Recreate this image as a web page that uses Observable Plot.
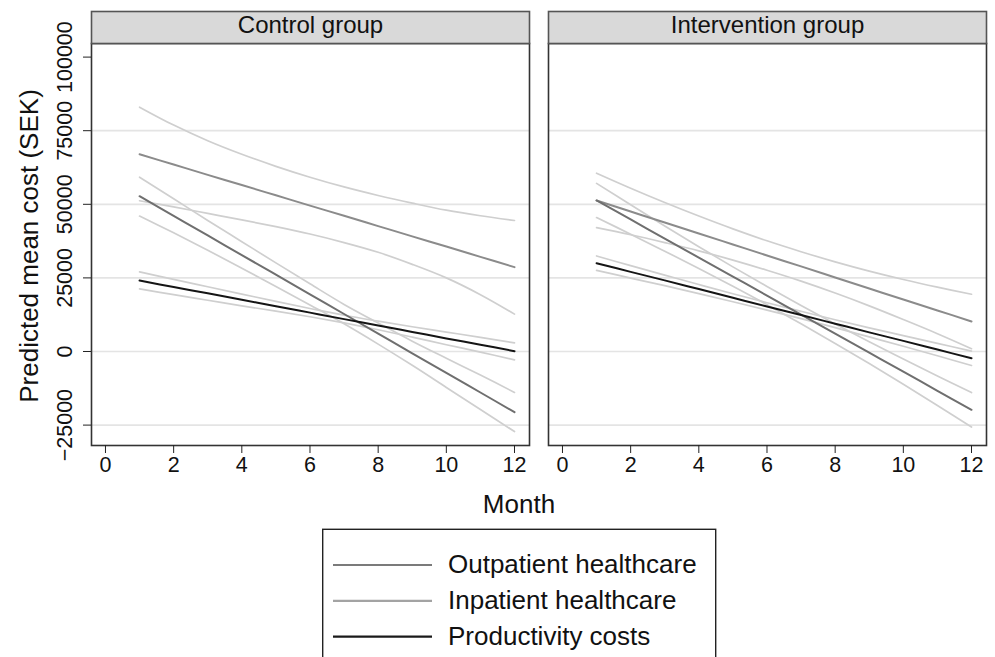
<!DOCTYPE html>
<html><head><meta charset="utf-8">
<script src="https://cdn.jsdelivr.net/npm/d3@7"></script>
<script src="https://cdn.jsdelivr.net/npm/@observablehq/plot@0.6"></script>
<style>
body{margin:0;background:#fff;}
#chart{position:relative;width:995px;height:657px;overflow:hidden;font-family:"Liberation Sans",Arial,Helvetica,sans-serif;}
#chart svg{display:block;}
</style>
</head><body><div id="chart"></div>
<script>
const panels = ["Control group", "Intervention group"];
const seriesNames = ["Outpatient healthcare", "Inpatient healthcare", "Productivity costs"];
const months = [1, 2, 3, 4, 5, 6, 7, 8, 9, 10, 11, 12];
const xTicks = [0, 2, 4, 6, 8, 10, 12];
const yTicks = [-25000, 0, 25000, 50000, 75000, 100000];
const gridValues = [-25000, 0, 25000, 50000, 75000];
const yLabel = "Predicted mean cost (SEK)";
const xLabel = "Month";

// Control group
const controlOutpatient      = [52750, 46080, 39410, 32750, 26080, 19410, 12740, 6070, -600, -7260, -13930, -20600];
const controlOutpatientUpper = [59200, 51900, 44500, 37300, 30100, 23000, 16000, 9700, 3500, -2300, -8000, -13900];
const controlOutpatientLower = [46000, 40300, 34400, 28300, 22100, 15800, 9400, 2500, -4700, -12200, -19700, -27200];
const controlInpatient       = [67000, 63500, 60000, 56550, 53050, 49550, 46100, 42600, 39100, 35650, 32150, 28650];
const controlInpatientUpper  = [83000, 76900, 71600, 67000, 62900, 59200, 55900, 53000, 50400, 48000, 46100, 44500];
const controlInpatientLower  = [51200, 49100, 46900, 44700, 42400, 39900, 37000, 33700, 29600, 25000, 19300, 12700];
const controlProductivity      = [24100, 21900, 19750, 17550, 15400, 13200, 11000, 8850, 6650, 4450, 2300, 100];
const controlProductivityUpper = [27050, 24500, 22000, 19500, 17000, 14600, 12300, 10300, 8400, 6600, 4800, 2950];
const controlProductivityLower = [21300, 19300, 17400, 15500, 13700, 11800, 9700, 7400, 4900, 2300, -200, -2850];

// Intervention group
const interventionOutpatient      = [51300, 44850, 38350, 31900, 25450, 19000, 12500, 6050, -400, -6850, -13350, -19800];
const interventionOutpatientUpper = [57100, 49850, 42650, 35600, 28750, 22100, 15600, 9350, 3300, -2550, -8350, -13950];
const interventionOutpatientLower = [45500, 39850, 34050, 28200, 22150, 15900, 9400, 2750, -4100, -11150, -18350, -25650];
const interventionInpatient       = [51300, 47550, 43800, 40100, 36350, 32600, 28900, 25150, 21400, 17650, 13950, 10200];
const interventionInpatientUpper  = [60550, 55450, 50600, 46000, 41650, 37600, 33900, 30450, 27300, 24450, 21850, 19450];
const interventionInpatientLower  = [42050, 39650, 37000, 34200, 31050, 27600, 23900, 19850, 15500, 10850, 6050, 950];
const interventionProductivity      = [30000, 27050, 24150, 21200, 18250, 15300, 12400, 9450, 6500, 3600, 650, -2300];
const interventionProductivityUpper = [32450, 29150, 25950, 22750, 19600, 16550, 13650, 10800, 8050, 5400, 2750, 150];
const interventionProductivityLower = [27550, 24950, 22350, 19650, 16900, 14050, 11150, 8100, 4950, 1800, -1450, -4750];

const lineColors = {"Outpatient healthcare": "#6f6f6f", "Inpatient healthcare": "#8b8b8b", "Productivity costs": "#151515"};
const ciColor = "#cfcfcf";
const legendColors = ["#7b7b7b", "#a3a3a3", "#1a1a1a"];

const rows = [];
function add(panel, series, band, values) {
  values.forEach((v, i) => rows.push({panel, series, band, month: months[i], value: v, key: panel + "|" + series + "|" + band}));
}
add(panels[0], seriesNames[0], "upper", controlOutpatientUpper);
add(panels[0], seriesNames[0], "lower", controlOutpatientLower);
add(panels[0], seriesNames[1], "upper", controlInpatientUpper);
add(panels[0], seriesNames[1], "lower", controlInpatientLower);
add(panels[0], seriesNames[2], "upper", controlProductivityUpper);
add(panels[0], seriesNames[2], "lower", controlProductivityLower);
add(panels[1], seriesNames[0], "upper", interventionOutpatientUpper);
add(panels[1], seriesNames[0], "lower", interventionOutpatientLower);
add(panels[1], seriesNames[1], "upper", interventionInpatientUpper);
add(panels[1], seriesNames[1], "lower", interventionInpatientLower);
add(panels[1], seriesNames[2], "upper", interventionProductivityUpper);
add(panels[1], seriesNames[2], "lower", interventionProductivityLower);
add(panels[0], seriesNames[1], "est", controlInpatient);
add(panels[0], seriesNames[0], "est", controlOutpatient);
add(panels[0], seriesNames[2], "est", controlProductivity);
add(panels[1], seriesNames[1], "est", interventionInpatient);
add(panels[1], seriesNames[0], "est", interventionOutpatient);
add(panels[1], seriesNames[2], "est", interventionProductivity);

const ciRows = rows.filter(d => d.band !== "est");
const estRows = rows.filter(d => d.band === "est");
const fmt = d => d < 0 ? "\u2212" + Math.abs(d) : String(d);
const FONT = '"Liberation Sans", Arial, Helvetica, sans-serif';

const chart = Plot.plot({
  width: 995, height: 480,
  marginLeft: 91, marginRight: 8, marginTop: 43, marginBottom: 35,
  style: {fontFamily: FONT, color: "#222", background: "transparent"},
  fx: {domain: panels, paddingInner: 0.0415, paddingOuter: 0, axis: null, label: null},
  x: {domain: [-0.41, 12.44]},
  y: {domain: [-31930, 104620]},
  color: {type: "identity"},
  marks: [
    Plot.ruleY(gridValues, {stroke: "#e4e4e4", strokeWidth: 1.7}),
    Plot.line(ciRows, {fx: "panel", x: "month", y: "value", z: "key", stroke: ciColor, strokeWidth: 1.7, curve: "catmull-rom"}),
    Plot.line(estRows, {fx: "panel", x: "month", y: "value", z: "key", stroke: d => lineColors[d.series], strokeWidth: 2, curve: "catmull-rom"}),
    Plot.frame({stroke: "#333", strokeWidth: 1.6}),
    Plot.frame({fill: "#d9d9d9", stroke: "#555", strokeWidth: 1.6, insetTop: -32, insetBottom: 402}),
    Plot.text(panels, {fx: d => d, text: d => d, frameAnchor: "top", dy: -28, fontSize: 24, fill: "#111"}),
    Plot.axisY({ticks: yTicks, tickSize: 8, tickPadding: 12, tickRotate: -90, tickFormat: fmt, fontSize: 21.5, label: null, fill: "#111"}),
    Plot.axisX({ticks: xTicks, tickSize: 8, tickPadding: 3, fontSize: 21.5, label: null, fill: "#111"})
  ]
});

d3.select(chart).append("text")
  .attr("transform", "translate(37.5,246) rotate(-90)")
  .attr("text-anchor", "middle")
  .attr("font-size", 26)
  .attr("font-family", FONT)
  .attr("fill", "#111")
  .text(yLabel);

const root = document.getElementById("chart");
root.appendChild(chart);

const bottom = d3.create("svg").attr("width", 995).attr("height", 177)
  .style("font-family", FONT);
bottom.append("text").attr("x", 519).attr("y", 33).attr("text-anchor", "middle")
  .attr("font-size", 26).attr("fill", "#111").text(xLabel);
bottom.append("rect").attr("x", 322.7).attr("y", 49.3).attr("width", 393).attr("height", 200)
  .attr("fill", "none").attr("stroke", "#222").attr("stroke-width", 1.4);
seriesNames.forEach((name, i) => {
  const y = 85 + 35.8 * i;
  bottom.append("line").attr("x1", 333).attr("x2", 432).attr("y1", y).attr("y2", y)
    .attr("stroke", legendColors[i]).attr("stroke-width", 2.2);
  bottom.append("text").attr("x", 448).attr("y", y + 8).attr("font-size", 26)
    .attr("fill", "#111").text(name);
});
root.appendChild(bottom.node());
</script>
</body></html>
